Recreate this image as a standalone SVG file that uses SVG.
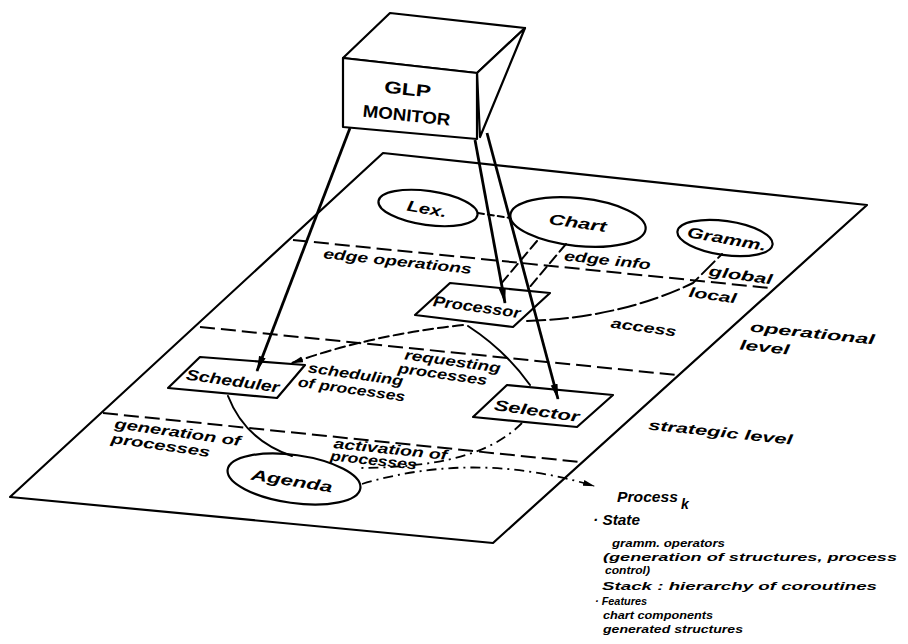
<svg xmlns="http://www.w3.org/2000/svg" width="908" height="644" viewBox="0 0 908 644">
<style>
.ln{fill:none;stroke:#000;stroke-width:2;stroke-linecap:round;stroke-linejoin:round}
.shape{fill:#fff;stroke:#000;stroke-width:2.2;stroke-linejoin:round}
.dash{fill:none;stroke:#000;stroke-width:2;stroke-dasharray:15 6}
.dd{fill:none;stroke:#000;stroke-width:1.8;stroke-dasharray:10 5 2 5}
.arr{fill:none;stroke:#000;stroke-width:2.8}
.t{font-family:"Liberation Sans",Arial,sans-serif;font-style:italic;font-weight:bold;font-size:14px;fill:#000}
.s{font-size:11px}
.tn{font-family:"Liberation Sans",Arial,sans-serif;font-style:italic;font-weight:bold;font-size:15px;fill:#000;text-anchor:middle}
.tc{text-anchor:middle}
.box{font-family:"Liberation Sans",Arial,sans-serif;font-weight:bold;font-size:17px;fill:#000;text-anchor:middle}
</style>
<defs>
<marker id="ah" markerUnits="userSpaceOnUse" markerWidth="16" markerHeight="8" refX="15" refY="4" orient="auto">
<path d="M0,0.5 L16,4 L0,7.5 z" fill="#000"/>
</marker>
<marker id="ahs" markerUnits="userSpaceOnUse" markerWidth="12" markerHeight="8" refX="11" refY="4" orient="auto">
<path d="M0,1 L12,4 L0,7 z" fill="#000"/>
</marker>
</defs>
<rect width="908" height="644" fill="#fff"/>

<g id="plane">
<polygon points="383,153 867,205 493,543 10,497" class="shape"/>
<line x1="293" y1="240" x2="770" y2="288" class="dash"/>
<line x1="200" y1="327" x2="677" y2="375" class="dash"/>
<line x1="103" y1="413" x2="580" y2="462" class="dash"/>
</g>

<g id="monitor">
<polygon points="343,58 390,13 525,28 477,73" class="shape"/>
<polygon points="477,73 525,28 480,137" class="shape"/>
<polygon points="343,58 477,73 477,139 343,127" class="shape"/>
<text class="box" transform="translate(407,95) rotate(6)" textLength="47" lengthAdjust="spacingAndGlyphs">GLP</text>
<text class="box" transform="translate(406,121) rotate(6)" textLength="88" lengthAdjust="spacingAndGlyphs">MONITOR</text>
</g>

<g id="lex">
<ellipse cx="428" cy="208" rx="50" ry="17" transform="rotate(8 428 208)" class="shape"/>
<text class="tn" transform="translate(426,214) rotate(10)" textLength="40" lengthAdjust="spacingAndGlyphs">Lex.</text>
</g>
<g id="chart">
<ellipse cx="578" cy="222" rx="68" ry="24" transform="rotate(6 578 222)" class="shape"/>
<text class="tn" transform="translate(577,228) rotate(8)" textLength="58" lengthAdjust="spacingAndGlyphs">Chart</text>
</g>
<g id="gramm">
<ellipse cx="725" cy="238" rx="48" ry="17" transform="rotate(8 725 238)" class="shape"/>
<text class="tn" transform="translate(726,244) rotate(10)" textLength="80" lengthAdjust="spacingAndGlyphs">Gramm.</text>
</g>

<g id="processor">
<polygon points="450,283 550,293 513,327 415,315" class="shape"/>
<text class="tn" transform="translate(476,312) rotate(8)" textLength="88" lengthAdjust="spacingAndGlyphs">Processor</text>
</g>
<g id="scheduler">
<polygon points="200,357 305,365 277,398 168,388" class="shape"/>
<text class="tn" transform="translate(232,386) rotate(8)" textLength="94" lengthAdjust="spacingAndGlyphs">Scheduler</text>
</g>
<g id="selector">
<polygon points="507,385 613,395 577,427 473,417" class="shape"/>
<text class="tn" transform="translate(536,416) rotate(8)" textLength="86" lengthAdjust="spacingAndGlyphs">Selector</text>
</g>
<g id="agenda">
<ellipse cx="294" cy="479" rx="67" ry="24" transform="rotate(8 294 479)" class="shape"/>
<text class="tn" transform="translate(291,486) rotate(9)" textLength="82" lengthAdjust="spacingAndGlyphs">Agenda</text>
</g>

<g id="connectors">
<line x1="350" y1="128" x2="257" y2="371" class="arr" marker-end="url(#ah)"/>
<line x1="475" y1="140" x2="505" y2="303" class="arr" marker-end="url(#ah)"/>
<line x1="487" y1="133" x2="558" y2="399" class="arr" marker-end="url(#ah)"/>
<line x1="478" y1="213" x2="510" y2="218" class="ln" stroke-dasharray="6 4"/>
<line x1="537" y1="241" x2="500" y2="285" class="ln" stroke-dasharray="10 5"/>
<line x1="566" y1="244" x2="528" y2="289" class="ln" stroke-dasharray="10 5"/>
<path d="M527,321 Q620,318 693,283 L722,254" class="ln" stroke-dasharray="18 5"/>
<path d="M463,325 Q370,335 292,363" class="ln" stroke-dasharray="10 5" marker-end="url(#ahs)"/>
<path d="M468,326 Q505,350 530,385" class="ln"/>
<path d="M228,396 Q245,440 292,456" class="ln"/>
<path d="M522,423 C500,445 460,468 357,468" class="dd"/>
<path d="M362,484 Q475,450 594,486" class="dd" marker-end="url(#ahs)"/>
</g>

<g id="labels">
<text class="t tc" transform="translate(397,266) rotate(6)" textLength="149" lengthAdjust="spacingAndGlyphs">edge operations</text>
<text class="t tc" transform="translate(607,265) rotate(6)" textLength="87" lengthAdjust="spacingAndGlyphs">edge info</text>
<text class="t tc" transform="translate(740,280) rotate(8)" textLength="64" lengthAdjust="spacingAndGlyphs">global</text>
<text class="t tc" transform="translate(712,300) rotate(8)" textLength="48" lengthAdjust="spacingAndGlyphs">local</text>
<text class="t tc" transform="translate(643,332) rotate(8)" textLength="66" lengthAdjust="spacingAndGlyphs">access</text>
<text class="t tc" transform="translate(812,338) rotate(6)" textLength="125" lengthAdjust="spacingAndGlyphs">operational</text>
<text class="t tc" transform="translate(764,352) rotate(6)" textLength="50" lengthAdjust="spacingAndGlyphs">level</text>
<text class="t tc" transform="translate(452,366) rotate(8)" textLength="97" lengthAdjust="spacingAndGlyphs">requesting</text>
<text class="t tc" transform="translate(442,379) rotate(8)" textLength="90" lengthAdjust="spacingAndGlyphs">processes</text>
<text class="t tc" transform="translate(355,379) rotate(8)" textLength="96" lengthAdjust="spacingAndGlyphs">scheduling</text>
<text class="t tc" transform="translate(351,394) rotate(8)" textLength="108" lengthAdjust="spacingAndGlyphs">of processes</text>
<text class="t tc" transform="translate(720,437) rotate(6)" textLength="145" lengthAdjust="spacingAndGlyphs">strategic level</text>
<text class="t tc" transform="translate(177,437) rotate(8)" textLength="127" lengthAdjust="spacingAndGlyphs">generation of</text>
<text class="t tc" transform="translate(160,450) rotate(8)" textLength="100" lengthAdjust="spacingAndGlyphs">processes</text>
<text class="t tc" transform="translate(390,454) rotate(6)" textLength="114" lengthAdjust="spacingAndGlyphs">activation of</text>
<text class="t tc" transform="translate(373,465) rotate(6)" textLength="87" lengthAdjust="spacingAndGlyphs">processes</text>
</g>

<g id="process_k">
<text class="t" x="617" y="502" font-size="15" textLength="61" lengthAdjust="spacingAndGlyphs">Process</text>
<text class="t" x="681" y="509" font-size="10">k</text>
<text class="t" x="593" y="525" font-size="13" textLength="47" lengthAdjust="spacingAndGlyphs">· State</text>
<text class="t s" x="612" y="547" textLength="113" lengthAdjust="spacingAndGlyphs">gramm. operators</text>
<text class="t s" x="603" y="561" textLength="294" lengthAdjust="spacingAndGlyphs">(generation of structures, process</text>
<text class="t s" x="605" y="574" textLength="45" lengthAdjust="spacingAndGlyphs">control)</text>
<text class="t s" x="602" y="590" textLength="275" lengthAdjust="spacingAndGlyphs">Stack : hierarchy of coroutines</text>
<text class="t s" x="595" y="605" textLength="52" lengthAdjust="spacingAndGlyphs">· Features</text>
<text class="t s" x="603" y="619" textLength="110" lengthAdjust="spacingAndGlyphs">chart components</text>
<text class="t s" x="603" y="633" textLength="140" lengthAdjust="spacingAndGlyphs">generated structures</text>
</g>
</svg>
